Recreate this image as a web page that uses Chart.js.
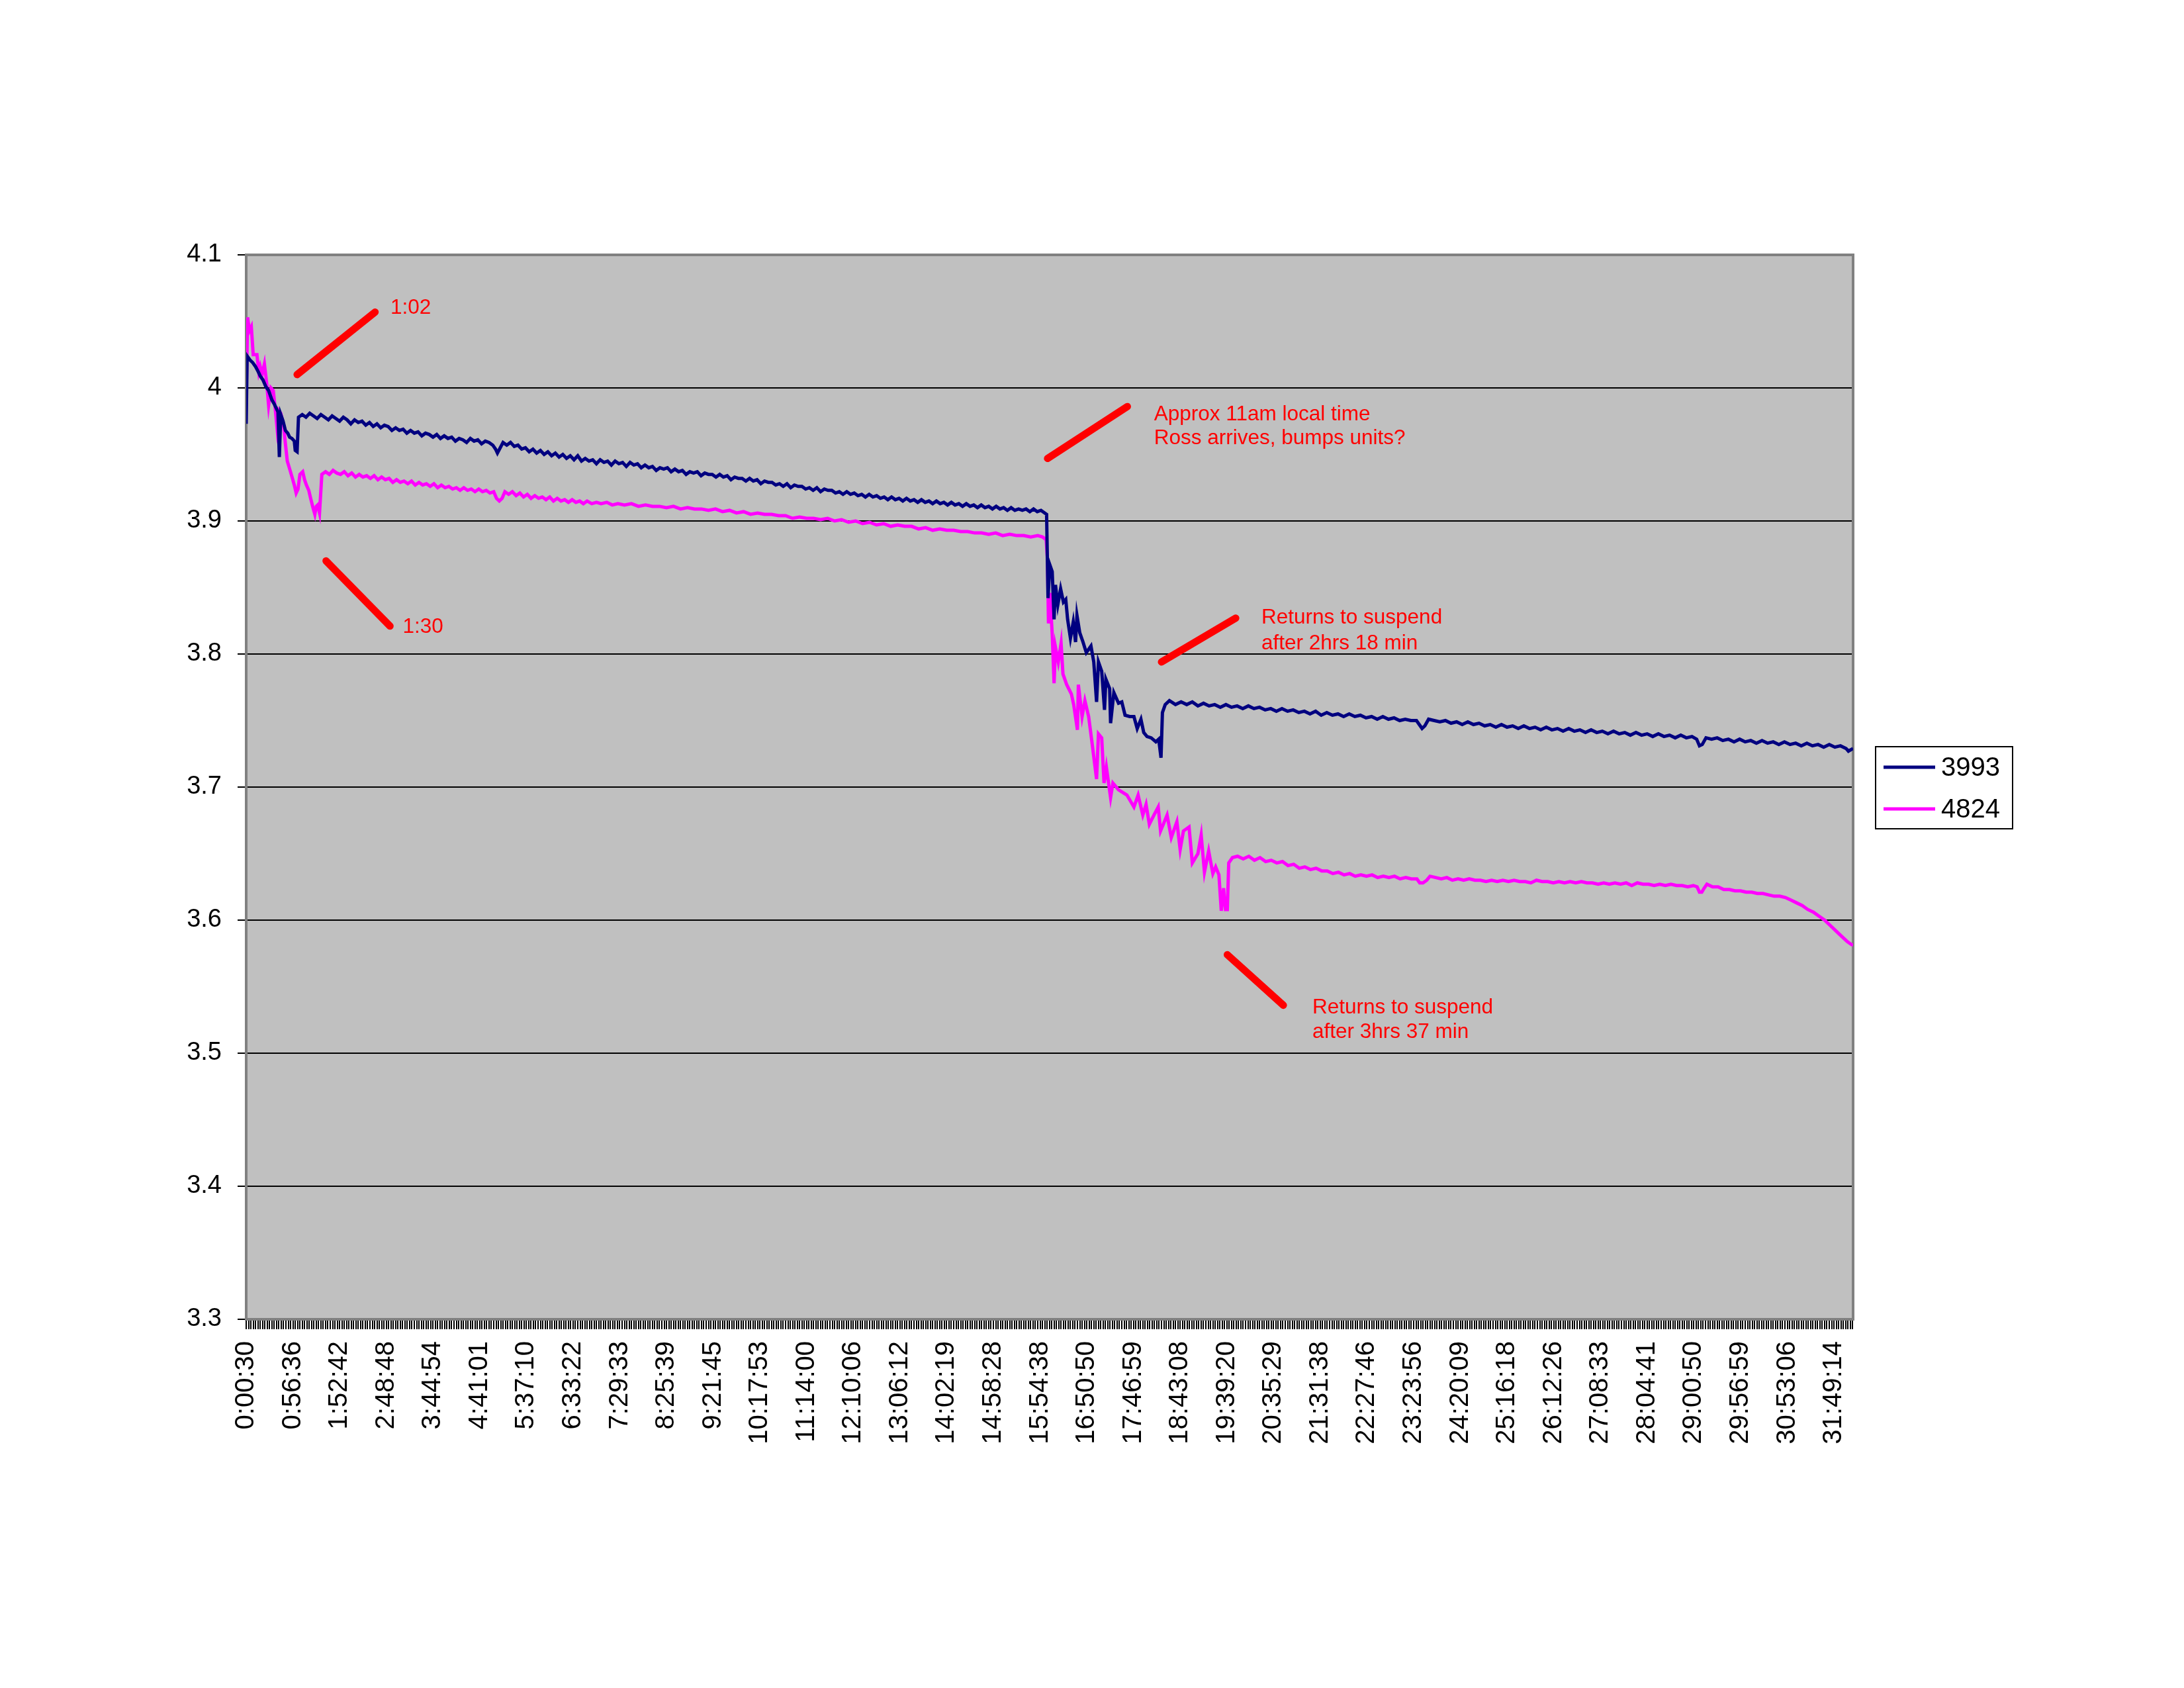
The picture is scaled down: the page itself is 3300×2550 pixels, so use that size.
<!DOCTYPE html>
<html>
<head>
<meta charset="utf-8">
<title>3993 / 4824</title>
<script src="https://cdn.jsdelivr.net/npm/chart.js@4.4.1/dist/chart.umd.min.js"></script>
<style>
  html, body { margin: 0; padding: 0; background: #fff; }
  canvas { display: block; }
</style>
</head>
<body>
<canvas id="graph" width="3300" height="2550"></canvas>
<script>
// category labels shown on the x axis (one every ~112 samples)
const timeLabels = ["0:00:30","0:56:36","1:52:42","2:48:48","3:44:54","4:41:01","5:37:10","6:33:22",
  "7:29:33","8:25:39","9:21:45","10:17:53","11:14:00","12:10:06","13:06:12","14:02:19","14:58:28",
  "15:54:38","16:50:50","17:46:59","18:43:08","19:39:20","20:35:29","21:31:38","22:27:46","23:23:56",
  "24:20:09","25:16:18","26:12:26","27:08:33","28:04:41","29:00:50","29:56:59","30:53:06","31:49:14"]

const xEnd = 34.41   // last sample, in label steps

// unit 3993 : position (label steps) / volts
const pos3993 = [0,0.02,0.08,0.14,0.20,0.26,0.30,0.36,0.42,0.48,0.55,0.60,0.64,0.68,0.71,0.74,0.79,0.84,0.89,0.93,0.98,1.03,1.05,1.09,
  1.12,1.20,1.28,1.36,1.44,1.52,1.60,1.68,1.76,1.84,1.92,2.00,2.08,2.16,2.24,2.32,2.40,2.48,2.56,2.64,2.72,2.80,2.88,2.96,3.04,3.12,
  3.20,3.28,3.36,3.44,3.52,3.60,3.68,3.76,3.84,3.92,4.00,4.08,4.16,4.24,4.32,4.40,4.48,4.56,4.64,4.72,4.80,4.88,4.96,5.04,5.12,5.20,
  5.28,5.34,5.38,5.44,5.50,5.58,5.66,5.74,5.82,5.90,5.98,6.06,6.14,6.22,6.30,6.38,6.46,6.54,6.62,6.70,6.78,6.86,6.94,7.02,7.10,7.18,
  7.26,7.34,7.42,7.50,7.58,7.66,7.74,7.82,7.90,7.98,8.06,8.14,8.22,8.30,8.38,8.46,8.54,8.62,8.70,8.78,8.86,8.94,9.02,9.10,9.18,9.26,
  9.34,9.42,9.50,9.58,9.66,9.74,9.82,9.90,9.98,10.06,10.14,10.22,10.30,10.38,10.46,10.54,10.62,10.70,10.78,10.86,10.94,11.02,11.10,
  11.18,11.26,11.34,11.42,11.50,11.58,11.66,11.74,11.82,11.90,11.98,12.06,12.14,12.22,12.30,12.38,12.46,12.54,12.62,12.70,12.78,
  12.86,12.94,13.02,13.10,13.18,13.26,13.34,13.42,13.50,13.58,13.66,13.74,13.82,13.90,13.98,14.06,14.14,14.22,14.30,14.38,14.46,
  14.54,14.62,14.70,14.78,14.86,14.94,15.02,15.10,15.18,15.26,15.34,15.42,15.50,15.58,15.66,15.74,15.82,15.90,15.98,16.06,16.14,
  16.22,16.30,16.38,16.46,16.54,16.62,16.70,16.78,16.86,16.94,17.02,17.10,17.14,
  17.17,17.21,17.26,17.30,17.33,17.38,17.44,17.50,17.55,17.59,17.65,17.71,17.76,17.79,17.85,17.92,17.99,18.09,18.15,18.21,18.25,
  18.32,18.38,18.41,18.49,18.51,18.58,18.68,18.75,18.82,18.92,19.01,19.08,19.16,19.22,19.29,19.38,19.48,19.54,19.59,19.62,19.68,
  19.77,19.90,20.02,20.14,20.26,20.38,20.50,20.62,20.74,20.86,20.98,21.10,21.22,21.34,21.46,21.58,21.70,21.82,21.94,22.06,22.18,
  22.30,22.42,22.54,22.66,22.78,22.90,23.02,23.14,23.26,23.38,23.50,23.62,23.74,23.86,23.98,24.10,24.22,24.34,24.46,24.58,24.70,
  24.82,24.94,25.06,25.14,25.18,25.24,25.32,25.44,25.56,25.68,25.80,25.92,26.04,26.16,26.28,26.40,26.52,26.64,26.76,26.88,27.00,
  27.12,27.24,27.36,27.48,27.60,27.72,27.84,27.96,28.08,28.20,28.32,28.44,28.56,28.68,28.80,28.92,29.04,29.16,29.28,29.40,29.52,
  29.64,29.76,29.88,30.00,30.12,30.24,30.36,30.48,30.60,30.72,30.84,30.96,31.06,31.12,31.18,31.26,31.38,31.50,31.62,31.74,31.86,
  31.98,32.10,32.22,32.34,32.46,32.58,32.70,32.82,32.94,33.06,33.18,33.30,33.42,33.54,33.66,33.78,33.90,34.02,34.14,34.26,34.31,34.41]
const volt3993 = [3.973,4.024,4.021,4.019,4.016,4.012,4.009,4.006,4.001,3.998,3.991,3.988,3.985,3.982,3.948,3.980,3.975,3.968,3.966,3.963,3.962,3.960,3.953,3.952,
  3.978,3.980,3.978,3.981,3.979,3.977,3.980,3.978,3.976,3.979,3.977,3.975,3.978,3.976,3.973,3.976,3.974,3.975,3.972,3.974,3.971,3.973,3.970,3.972,3.971,3.968,
  3.970,3.968,3.969,3.966,3.968,3.966,3.967,3.964,3.966,3.965,3.963,3.965,3.962,3.964,3.962,3.963,3.960,3.962,3.961,3.959,3.962,3.960,3.961,3.958,3.960,3.959,
  3.957,3.954,3.951,3.955,3.959,3.957,3.959,3.956,3.957,3.954,3.955,3.952,3.954,3.951,3.953,3.950,3.952,3.949,3.951,3.948,3.950,3.947,3.949,3.946,3.949,3.945,
  3.947,3.945,3.946,3.943,3.946,3.944,3.945,3.942,3.945,3.943,3.944,3.941,3.944,3.942,3.943,3.940,3.942,3.940,3.941,3.938,3.940,3.939,3.940,3.937,3.939,3.937,
  3.938,3.935,3.937,3.936,3.937,3.934,3.936,3.935,3.935,3.933,3.935,3.933,3.934,3.931,3.933,3.932,3.932,3.930,3.932,3.930,3.931,3.928,3.930,
  3.929,3.929,3.927,3.928,3.926,3.928,3.925,3.927,3.926,3.926,3.924,3.925,3.923,3.925,3.922,3.924,3.923,3.923,3.921,3.922,3.920,
  3.922,3.920,3.921,3.919,3.920,3.918,3.920,3.918,3.919,3.917,3.918,3.916,3.918,3.916,3.917,3.915,3.917,3.915,3.916,3.914,3.916,
  3.914,3.915,3.913,3.915,3.913,3.914,3.912,3.914,3.912,3.913,3.911,3.913,3.911,3.912,3.910,3.912,3.910,3.911,3.909,3.911,3.909,
  3.910,3.908,3.910,3.908,3.909,3.908,3.909,3.907,3.909,3.907,3.908,3.906,3.905,
  3.842,3.867,3.862,3.826,3.852,3.837,3.849,3.839,3.841,3.826,3.812,3.824,3.809,3.829,3.816,3.809,3.801,3.806,3.794,3.764,3.794,
  3.787,3.758,3.781,3.774,3.748,3.771,3.763,3.764,3.754,3.753,3.753,3.744,3.751,3.741,3.738,3.737,3.734,3.736,3.722,3.756,3.762,
  3.765,3.762,3.764,3.762,3.764,3.761,3.763,3.761,3.762,3.760,3.762,3.760,3.761,3.759,3.761,3.759,3.760,3.758,3.759,3.757,3.759,
  3.757,3.758,3.756,3.757,3.755,3.757,3.754,3.756,3.754,3.755,3.753,3.755,3.753,3.754,3.752,3.753,3.751,3.753,3.751,3.752,3.750,
  3.751,3.750,3.750,3.746,3.744,3.746,3.751,3.750,3.749,3.750,3.748,3.749,3.747,3.749,3.747,3.748,3.746,3.747,3.745,3.747,3.745,
  3.746,3.744,3.746,3.744,3.745,3.743,3.745,3.743,3.744,3.742,3.744,3.742,3.743,3.741,3.743,3.741,3.742,3.740,3.742,3.740,3.741,
  3.739,3.741,3.739,3.740,3.738,3.740,3.738,3.739,3.737,3.739,3.737,3.738,3.736,3.731,3.732,3.737,3.736,3.737,3.735,3.736,3.734,
  3.736,3.734,3.735,3.733,3.735,3.733,3.734,3.732,3.734,3.732,3.733,3.731,3.733,3.731,3.732,3.730,3.732,3.730,3.731,3.729,3.727,3.729]

// unit 4824
const pos4824 = [0,0.03,0.07,0.11,0.15,0.23,0.27,0.30,0.34,0.39,0.44,0.48,0.53,0.58,0.62,0.66,0.70,0.74,0.80,0.84,0.88,0.94,0.99,1.03,1.07,
  1.11,1.15,1.21,1.25,1.29,1.34,1.38,1.43,1.47,1.50,1.53,1.57,
  1.62,1.70,1.78,1.86,1.94,2.02,2.10,2.18,2.26,2.34,2.42,2.50,2.58,2.66,2.74,2.82,2.90,2.98,3.06,3.14,3.22,3.30,3.38,3.46,3.54,3.62,
  3.70,3.78,3.86,3.94,4.02,4.10,4.18,4.26,4.34,4.42,4.50,4.58,4.66,4.74,4.82,4.90,4.98,5.06,5.14,5.22,5.30,5.36,5.42,5.48,5.54,5.62,
  5.70,5.78,5.86,5.94,6.02,6.10,6.18,6.26,6.34,6.42,6.50,6.58,6.66,6.74,6.82,6.90,6.98,7.06,7.14,7.22,7.30,7.40,7.50,7.60,7.72,7.84,
  7.96,8.10,8.25,8.40,8.55,8.70,8.85,9.00,9.15,9.30,9.45,9.60,9.75,9.90,10.05,10.20,10.35,10.50,10.65,10.80,10.95,11.10,11.25,11.40,
  11.55,11.70,11.85,12.00,12.15,12.30,12.45,12.60,12.75,12.90,13.05,13.20,13.35,13.50,13.65,13.80,13.95,14.10,14.25,14.40,14.55,
  14.70,14.85,15.00,15.15,15.30,15.45,15.60,15.75,15.90,16.05,16.20,16.35,16.50,16.65,16.80,16.95,17.05,17.13,17.16,
  17.18,17.21,17.26,17.30,17.33,17.39,17.45,17.49,17.57,17.67,17.72,17.80,17.82,17.90,17.96,18.04,18.11,18.21,18.25,18.32,18.37,
  18.42,18.51,18.56,18.68,18.86,19.01,19.10,19.20,19.27,19.34,19.44,19.53,19.58,19.72,19.81,19.93,20.00,20.07,20.19,20.26,20.38,
  20.45,20.52,20.61,20.70,20.76,20.83,20.88,20.93,20.97,21.01,21.04,21.12,
  21.23,21.35,21.47,21.59,21.71,21.83,21.95,22.07,22.19,22.31,22.43,22.55,22.67,22.79,22.91,23.03,23.15,23.27,23.39,23.51,23.63,
  23.75,23.87,23.99,24.11,24.23,24.35,24.47,24.59,24.71,24.83,24.95,25.07,25.13,25.20,25.28,25.35,25.47,25.59,25.71,25.83,25.95,
  26.07,26.19,26.31,26.43,26.55,26.67,26.79,26.91,27.03,27.15,27.27,27.39,27.51,27.63,27.75,27.87,27.99,28.11,28.23,28.35,28.47,
  28.59,28.71,28.83,28.95,29.07,29.19,29.31,29.43,29.55,29.67,29.79,29.91,30.03,30.15,30.27,30.39,30.51,30.63,30.75,30.87,30.99,
  31.07,31.12,31.17,31.22,31.28,31.40,31.52,31.64,31.76,31.88,32.00,32.12,32.24,32.36,32.48,32.60,32.72,32.84,32.96,33.08,33.20,
  33.32,33.44,33.56,33.68,33.80,33.92,34.04,34.16,34.28,34.36,34.41]
const volt4824 = [3.990,4.053,4.043,4.046,4.025,4.025,4.012,4.016,4.010,4.018,4.003,3.987,4.000,3.998,3.985,3.970,3.983,3.981,3.972,3.958,3.945,3.938,3.932,3.927,3.921,
  3.924,3.935,3.937,3.931,3.927,3.923,3.917,3.910,3.905,3.911,3.912,3.906,
  3.935,3.937,3.935,3.938,3.936,3.935,3.937,3.934,3.936,3.933,3.935,3.933,3.934,3.932,3.934,3.931,3.933,3.931,3.932,3.929,3.931,3.929,3.930,3.928,3.930,3.927,
  3.929,3.927,3.928,3.926,3.928,3.925,3.927,3.925,3.926,3.924,3.925,3.923,3.925,3.923,3.924,3.922,3.924,3.922,3.923,3.921,3.922,3.917,3.915,3.917,3.922,3.920,
  3.922,3.919,3.921,3.918,3.920,3.917,3.919,3.917,3.918,3.916,3.918,3.915,3.917,3.915,3.916,3.914,3.916,3.914,3.915,3.913,3.915,3.913,3.914,3.913,3.914,3.912,
  3.913,3.912,3.913,3.911,3.912,3.911,3.911,3.910,3.911,3.909,3.910,3.909,3.909,3.908,3.909,3.907,3.908,3.906,3.907,3.905,3.906,3.905,3.905,3.904,
  3.904,3.902,3.903,3.902,3.902,3.901,3.902,3.900,3.901,3.899,3.900,3.898,3.899,3.897,3.898,3.896,3.897,3.896,3.896,3.894,3.895,
  3.893,3.894,3.893,3.893,3.892,3.892,3.891,3.891,3.890,3.891,3.889,3.890,3.889,3.889,3.888,3.889,3.888,3.886,3.870,
  3.823,3.846,3.815,3.778,3.805,3.794,3.808,3.785,3.777,3.770,3.762,3.743,3.777,3.753,3.765,3.753,3.734,3.706,3.740,3.737,3.703,
  3.715,3.692,3.703,3.698,3.694,3.685,3.694,3.679,3.687,3.672,3.679,3.685,3.667,3.679,3.662,3.674,3.653,3.667,3.670,3.643,3.650,
  3.664,3.636,3.652,3.635,3.640,3.634,3.607,3.624,3.608,3.608,3.643,3.647,
  3.648,3.646,3.648,3.645,3.647,3.644,3.645,3.643,3.644,3.641,3.642,3.639,3.640,3.638,3.639,3.637,3.637,3.635,3.636,3.634,3.635,
  3.633,3.634,3.633,3.634,3.632,3.633,3.632,3.633,3.631,3.632,3.631,3.631,3.628,3.628,3.630,3.633,3.632,3.631,3.632,3.630,3.631,
  3.630,3.631,3.630,3.630,3.629,3.630,3.629,3.630,3.629,3.630,3.629,3.629,3.628,3.630,3.629,3.629,3.628,3.629,3.628,3.629,3.628,
  3.629,3.628,3.628,3.627,3.628,3.627,3.628,3.627,3.628,3.626,3.628,3.627,3.627,3.626,3.627,3.626,3.627,3.626,3.626,3.625,3.626,
  3.625,3.621,3.621,3.624,3.627,3.625,3.625,3.623,3.623,3.622,3.622,3.621,3.621,3.620,3.620,3.619,3.618,3.618,3.617,3.615,3.613,
  3.611,3.608,3.606,3.603,3.600,3.596,3.592,3.588,3.584,3.582,3.581]

// red hand-drawn notes, in chart units (label steps / volts)
const noteLines = [
  [1.09, 4.010, 2.76, 4.057],
  [1.71, 3.870, 3.08, 3.821],
  [17.16, 3.947, 18.87, 3.986],
  [19.60, 3.794, 21.19, 3.827],
  [21.01, 3.574, 22.21, 3.536]
]
const noteTexts = [
  [3.09, 4.060, "1:02"],
  [3.35, 3.820, "1:30"],
  [19.44, 3.980, "Approx 11am local time"],
  [19.44, 3.962, "Ross arrives, bumps units?"],
  [21.74, 3.827, "Returns to suspend"],
  [21.74, 3.808, "after 2hrs 18 min"],
  [22.83, 3.534, "Returns to suspend"],
  [22.83, 3.516, "after 3hrs 37 min"]
]

const toPoints = (xs, ys) => xs.map((x, i) => ({ x: x, y: ys[i] }))

Chart.defaults.font.family = "'Liberation Sans', Arial, sans-serif"
Chart.defaults.color = '#000'

const plotBack = {
  id: 'plotBack',
  beforeDraw(chart) {
    const { ctx, chartArea: a } = chart
    ctx.save()
    ctx.fillStyle = '#fff'
    ctx.fillRect(0, 0, chart.width, chart.height)
    ctx.fillStyle = '#c0c0c0'
    ctx.fillRect(a.left, a.top, a.right - a.left, a.bottom - a.top)
    ctx.restore()
  },
  beforeDatasetsDraw(chart) {
    const { ctx, chartArea: a } = chart
    ctx.save()
    ctx.strokeStyle = '#808080'
    ctx.lineWidth = 4
    ctx.strokeRect(a.left, a.top, a.right - a.left, a.bottom - a.top)
    ctx.restore()
  }
}

const notes = {
  id: 'notes',
  afterDatasetsDraw(chart) {
    const { ctx } = chart
    const sx = chart.scales.x, sy = chart.scales.y
    ctx.save()
    ctx.strokeStyle = '#ff0000'
    ctx.lineWidth = 11
    ctx.lineCap = 'round'
    noteLines.forEach(l => {
      ctx.beginPath()
      ctx.moveTo(sx.getPixelForValue(l[0]), sy.getPixelForValue(l[1]))
      ctx.lineTo(sx.getPixelForValue(l[2]), sy.getPixelForValue(l[3]))
      ctx.stroke()
    })
    ctx.fillStyle = '#ff0000'
    ctx.font = "31.5px 'Liberation Sans', Arial, sans-serif"
    ctx.textAlign = 'left'
    ctx.textBaseline = 'middle'
    noteTexts.forEach(t => ctx.fillText(t[2], sx.getPixelForValue(t[0]), sy.getPixelForValue(t[1])))
    ctx.restore()
  }
}

// excel style legend box on the right
const legendBox = {
  id: 'legendBox',
  afterDraw(chart) {
    const { ctx } = chart
    const left = 2834, top = 1128, w = 207, h = 124
    ctx.save()
    ctx.fillStyle = '#fff'
    ctx.fillRect(left, top, w, h)
    ctx.strokeStyle = '#000'
    ctx.lineWidth = 2
    ctx.strokeRect(left, top, w, h)
    ctx.font = "40px 'Liberation Sans', Arial, sans-serif"
    ctx.textBaseline = 'middle'
    ctx.textAlign = 'left'
    chart.data.datasets.forEach((ds, i) => {
      const y = top + 31 + i * 63
      ctx.strokeStyle = ds.borderColor
      ctx.lineWidth = 5
      ctx.beginPath()
      ctx.moveTo(left + 12, y)
      ctx.lineTo(left + 90, y)
      ctx.stroke()
      ctx.fillStyle = '#000'
      ctx.fillText(ds.label, left + 99, y + 2)
    })
    ctx.restore()
  }
}

new Chart(document.getElementById('graph'), {
  type: 'line',
  data: {
    datasets: [
      { label: '3993', data: toPoints(pos3993, volt3993), borderColor: '#000080', borderWidth: 5 },
      { label: '4824', data: toPoints(pos4824, volt4824), borderColor: '#ff00ff', borderWidth: 5 }
    ]
  },
  options: {
    responsive: false,
    animation: false,
    devicePixelRatio: 1,
    layout: { padding: { top: 385, right: 500, left: 0, bottom: 0 } },
    elements: { point: { radius: 0 }, line: { tension: 0 } },
    plugins: { legend: { display: false }, tooltip: { enabled: false } },
    scales: {
      x: {
        type: 'linear',
        min: 0,
        max: xEnd,
        afterBuildTicks: axis => {
          const ticks = []
          for (let i = 0; i <= Math.floor(xEnd * 20); i++) ticks.push({ value: i / 20 })
          axis.ticks = ticks
        },
        afterFit: axis => { axis.height = 557 },
        border: { display: false },
        grid: { drawOnChartArea: false, drawTicks: true, tickLength: 15, color: '#000', lineWidth: 2 },
        ticks: {
          autoSkip: false,
          minRotation: 90,
          maxRotation: 90,
          padding: 18,
          font: { size: 40 },
          callback: v => {
            const i = Math.round(v)
            return Math.abs(v - i) < 1e-6 && i < timeLabels.length ? timeLabels[i] : ''
          }
        }
      },
      y: {
        min: 3.3,
        max: 4.1,
        afterFit: axis => { axis.width = 372 },
        border: { display: false },
        grid: { color: '#000', lineWidth: 2, drawTicks: true, tickLength: 13 },
        ticks: {
          stepSize: 0.1,
          padding: 24,
          font: { size: 38 },
          callback: v => String(Number(v.toFixed(1)))
        }
      }
    }
  },
  plugins: [plotBack, notes, legendBox]
})
</script>
</body>
</html>
